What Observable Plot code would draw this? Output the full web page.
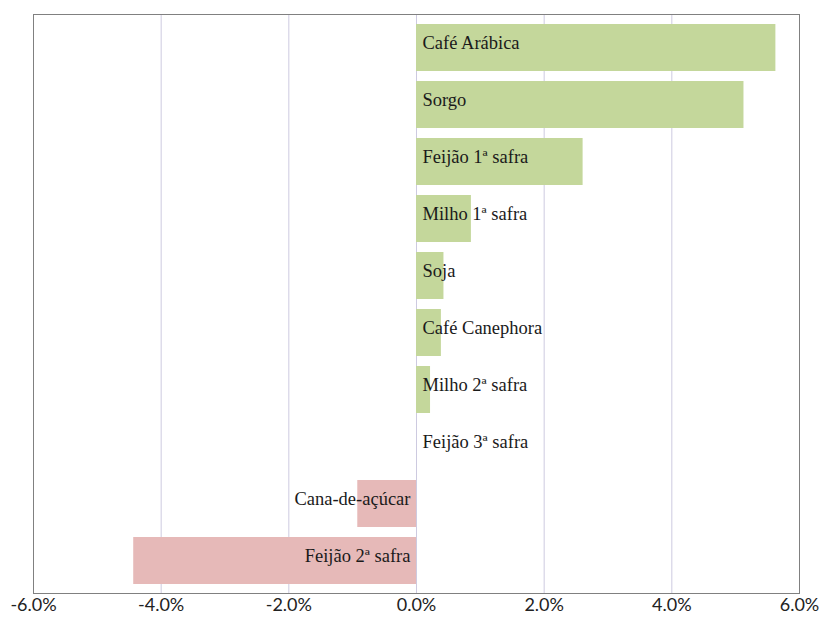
<!DOCTYPE html>
<html><head><meta charset="utf-8">
<script src="https://cdn.jsdelivr.net/npm/d3@7"></script>
<script src="https://cdn.jsdelivr.net/npm/@observablehq/plot@0.6"></script>
<style>body{margin:0;background:#fff}</style>
</head><body><div id="chart"></div>
<script>
const categories = ["Café Arábica","Sorgo","Feijão 1ª safra","Milho 1ª safra","Soja","Café Canephora","Milho 2ª safra","Feijão 3ª safra","Cana-de-açúcar","Feijão 2ª safra"];
const values = [5.63, 5.13, 2.61, 0.86, 0.43, 0.39, 0.22, 0.0, -0.92, -4.43];
const xTicks = [-6, -4, -2, 0, 2, 4, 6];
const colorPos = "#c4d79b", colorNeg = "#e6b9b8";

const data = categories.map((c, i) => ({cat: c, v: values[i]}));
const fmt = d => d.toFixed(1) + "%";

const chart = Plot.plot({
  width: 821, height: 617,
  marginLeft: 33, marginRight: 22, marginTop: 14, marginBottom: 24,
  style: {fontFamily: "Lato, sans-serif", background: "#fff"},
  x: {domain: [-6, 6], ticks: xTicks, tickFormat: fmt, label: null},
  y: {domain: categories, paddingInner: 0.184, paddingOuter: 0.113, axis: null},
  marks: [
    Plot.ruleX(xTicks.filter(t => t > -6 && t < 6), {stroke: "#cdcae0", strokeWidth: 1}),
    Plot.barX(data, {x: "v", y: "cat", fill: d => d.v >= 0 ? colorPos : colorNeg}),
    Plot.text(data.filter(d => d.v >= 0), {x: 0, y: "cat", text: "cat", textAnchor: "start", dx: 6, dy: -5,
      fontFamily: "Liberation Serif, serif", fontSize: 18.5, fill: "#1a1a1a"}),
    Plot.text(data.filter(d => d.v < 0), {x: 0, y: "cat", text: "cat", textAnchor: "end", dx: -6, dy: -5,
      fontFamily: "Liberation Serif, serif", fontSize: 18.5, fill: "#1a1a1a"}),
    Plot.frame({stroke: "#808080", strokeWidth: 1}),
    Plot.ruleY([0], {frameAnchor: "bottom", stroke: "#666", strokeWidth: 2}),
    Plot.axisX({ticks: xTicks, tickFormat: fmt, tickSize: 0, tickPadding: 5, fontSize: 18, fill: "#222", label: null})
  ]
});
document.getElementById("chart").appendChild(chart);
</script>
</body></html>
